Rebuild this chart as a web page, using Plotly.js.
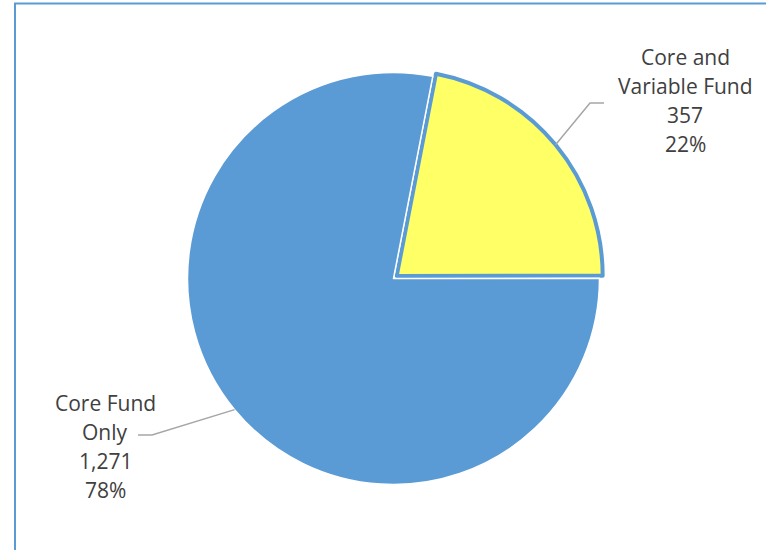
<!DOCTYPE html>
<html>
<head>
<meta charset="utf-8">
<script src="https://cdn.plot.ly/plotly-3.0.1.min.js"></script>
<style>html,body{margin:0;padding:0;background:#fff;}#chart{width:766px;height:550px;}</style>
</head>
<body>
<div id="chart"></div>
<script>
// Data
var categories = ["Core and Variable Fund", "Core Fund Only"];
var labelLines = [["Core and", "Variable Fund"], ["Core Fund", "Only"]];
var values = [357, 1271];
var sliceColors = ["#FFFF66", "#5B9BD5"];

var W = 766, H = 550;
var cx = 393.5, cy = 278.5, R = 206;   // pie geometry in px
var pulls = [0.02, 0];
var rotation = 11;
var maxPull = 0.02;
var half = R * (1 + maxPull);
var lineStep = 29;

var total = values.reduce(function(a, b){ return a + b; }, 0);
function fmt(n){ return n.toLocaleString("en-US"); }

// label lines from data
var labelTexts = values.map(function(v, i){
  var pct = Math.round(v / total * 100);
  return labelLines[i].concat([fmt(v), pct + "%"]);
});

// midpoint angles (deg, clockwise from 12 o'clock)
var cum = 0, mids = [];
values.forEach(function(v){
  mids.push(rotation + (cum + v / 2) / total * 360);
  cum += v;
});

function px2x(x){ return x / W; }
function px2y(y){ return 1 - y / H; }

// leader line anchors & label placement
var labelPos = [
  {elbow: [590, 103], end: [604, 103], tx: 685, ty0: 57},
  {elbow: [152, 435], end: [138, 435], tx: 105, ty0: 403}
];

var shapes = [
  {type: "line", xref: "paper", yref: "paper", x0: px2x(15), x1: px2x(15), y0: px2y(3.5), y1: px2y(560), line: {color: "#5B9BD5", width: 2}},
  {type: "line", xref: "paper", yref: "paper", x0: px2x(14), x1: px2x(780), y0: px2y(3.5), y1: px2y(3.5), line: {color: "#5B9BD5", width: 2}}
];
var annotations = [];
values.forEach(function(v, i){
  var a = mids[i] * Math.PI / 180;
  var pr = R * pulls[i];
  var sx = cx + (R + pr) * Math.sin(a);
  var sy = cy - (R + pr) * Math.cos(a);
  var p = labelPos[i];
  shapes.push({
    type: "path", xref: "paper", yref: "paper",
    path: "M " + px2x(sx) + "," + px2y(sy) + " L " + px2x(p.elbow[0]) + "," + px2y(p.elbow[1]) + " L " + px2x(p.end[0]) + "," + px2y(p.end[1]),
    line: {color: "#A6A6A6", width: 1.5}
  });
  labelTexts[i].forEach(function(t, k){
    annotations.push({
      xref: "paper", yref: "paper", x: px2x(p.tx), y: px2y(p.ty0 + k * lineStep),
      xanchor: "center", yanchor: "middle", align: "center",
      text: t, showarrow: false,
      font: {family: "Open Sans, sans-serif", size: 21, color: "#404040"}
    });
  });
});

var trace = {
  type: "pie",
  labels: categories,
  values: values,
  sort: false,
  direction: "clockwise",
  rotation: rotation,
  pull: pulls,
  textinfo: "none",
  hoverinfo: "label+value+percent",
  marker: {colors: sliceColors, line: {color: ["#5B9BD5", "#FFFFFF"], width: [4, 1.5]}},
  domain: {x: [px2x(cx - half), px2x(cx + half)], y: [px2y(cy + half), px2y(cy - half)]}
};

var layout = {
  width: W, height: H,
  margin: {l: 0, r: 0, t: 0, b: 0},
  paper_bgcolor: "#FFFFFF",
  showlegend: false,
  shapes: shapes,
  annotations: annotations
};

Plotly.newPlot("chart", [trace], layout, {displayModeBar: false, staticPlot: true});
</script>
</body>
</html>
